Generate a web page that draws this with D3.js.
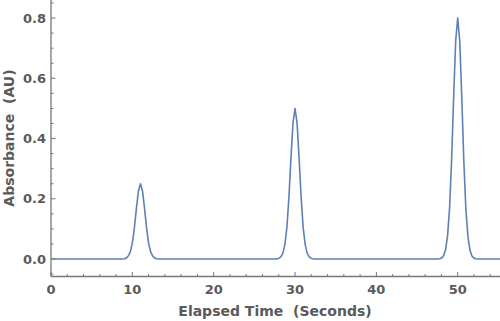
<!DOCTYPE html>
<html>
<head>
<meta charset="utf-8">
<script src="https://cdn.jsdelivr.net/npm/d3@7"></script>
<style>
  body { margin: 0; background: #fff; }
  text { font-family: "DejaVu Sans", sans-serif; font-weight: bold; fill: #5a5a5a; }
</style>
</head>
<body>
<div class="chart"></div>
<script>
// chromatogram readings (seconds, AU)
let times = [0,
  8.5, 8.75, 9.0, 9.25, 9.5, 9.75, 10.0, 10.25, 10.5, 10.75, 11.0, 11.25, 11.5, 11.75, 12.0, 12.25, 12.5, 12.75, 13.0, 13.25, 13.5,
  27.5, 27.75, 28.0, 28.25, 28.5, 28.75, 29.0, 29.25, 29.5, 29.75, 30.0, 30.25, 30.5, 30.75, 31.0, 31.25, 31.5, 31.75, 32.0, 32.25, 32.5,
  47.5, 47.75, 48.0, 48.25, 48.5, 48.75, 49.0, 49.25, 49.5, 49.75, 50.0, 50.25, 50.5, 50.75, 51.0, 51.25, 51.5, 51.75, 52.0, 52.25, 52.5,
  55.2];
let absorbance = [0,
  0, 0.000, 0.001, 0.003, 0.010, 0.024, 0.053, 0.103, 0.168, 0.226, 0.25, 0.226, 0.168, 0.103, 0.053, 0.024, 0.010, 0.003, 0.001, 0.000, 0,
  0, 0.001, 0.002, 0.007, 0.019, 0.048, 0.105, 0.205, 0.335, 0.452, 0.5, 0.452, 0.335, 0.205, 0.105, 0.048, 0.019, 0.007, 0.002, 0.001, 0,
  0, 0.001, 0.003, 0.010, 0.030, 0.076, 0.168, 0.328, 0.536, 0.724, 0.8, 0.724, 0.536, 0.328, 0.168, 0.076, 0.030, 0.010, 0.003, 0.001, 0,
  0];
let xTicks = [0, 10, 20, 30, 40, 50];
let yTicks = [0, 0.2, 0.4, 0.6, 0.8];

let svgWidth = 500;
let svgHeight = 321;

let svg = d3.select(".chart")
    .append("svg")
    .attr("width", svgWidth)
    .attr("height", svgHeight);

let x = d3.scaleLinear().domain([0, 55.2]).range([51, 500]);
let y = d3.scaleLinear().domain([-0.058, 0.86]).range([276.5, 0]);

let data = times.map((t, i) => ({t: t, a: absorbance[i]}));

let axisColor = "#777";

// x axis (ticks pointing up, into the plot)
let xAxis = svg.append("g")
    .attr("transform", `translate(0, ${y.range()[0]})`);
xAxis.append("line")
    .attr("x1", x.range()[0]).attr("x2", x.range()[1])
    .attr("stroke", axisColor).attr("stroke-width", 1.3);
xAxis.selectAll(".minor")
    .data(d3.range(0, 56, 2))
    .enter().append("line")
    .attr("x1", d => x(d)).attr("x2", d => x(d))
    .attr("y1", 0).attr("y2", d => xTicks.includes(d) ? -4.5 : -2.5)
    .attr("stroke", axisColor);
xAxis.selectAll(".lbl")
    .data(xTicks)
    .enter().append("text")
    .attr("x", d => x(d))
    .attr("y", 17)
    .attr("text-anchor", "middle")
    .style("font-size", "13px")
    .text(d => d);

// y axis (ticks pointing right)
let yAxis = svg.append("g")
    .attr("transform", `translate(${x.range()[0]}, 0)`);
yAxis.append("line")
    .attr("y1", y.range()[0]).attr("y2", 0)
    .attr("stroke", axisColor).attr("stroke-width", 1.3);
yAxis.selectAll(".minor")
    .data(d3.range(-0.05, 0.86, 0.05))
    .enter().append("line")
    .attr("y1", d => y(d)).attr("y2", d => y(d))
    .attr("x1", 0).attr("x2", d => yTicks.some(v => Math.abs(v - d) < 1e-6) ? 4.5 : 2.5)
    .attr("stroke", axisColor);
yAxis.selectAll(".lbl")
    .data(yTicks)
    .enter().append("text")
    .attr("x", -5)
    .attr("y", d => y(d))
    .attr("dy", "0.35em")
    .attr("text-anchor", "end")
    .style("font-size", "13px")
    .text(d => d3.format(".1f")(d));

// the trace
let line = d3.line()
    .x(d => x(d.t))
    .y(d => y(d.a));

svg.append("path")
    .datum(data)
    .attr("d", line)
    .attr("fill", "none")
    .attr("stroke", "#5e81b5")
    .attr("stroke-width", 1.6)
    .attr("stroke-linejoin", "round");

// axis titles
svg.append("text")
    .attr("x", 275)
    .attr("y", 316)
    .attr("text-anchor", "middle")
    .style("font-size", "14px")
    .style("white-space", "pre")
    .text("Elapsed Time  (Seconds)");

svg.append("text")
    .attr("transform", "rotate(-90)")
    .attr("x", -138)
    .attr("y", 14)
    .attr("text-anchor", "middle")
    .style("font-size", "14px")
    .style("white-space", "pre")
    .text("Absorbance  (AU)");
</script>
</body>
</html>
